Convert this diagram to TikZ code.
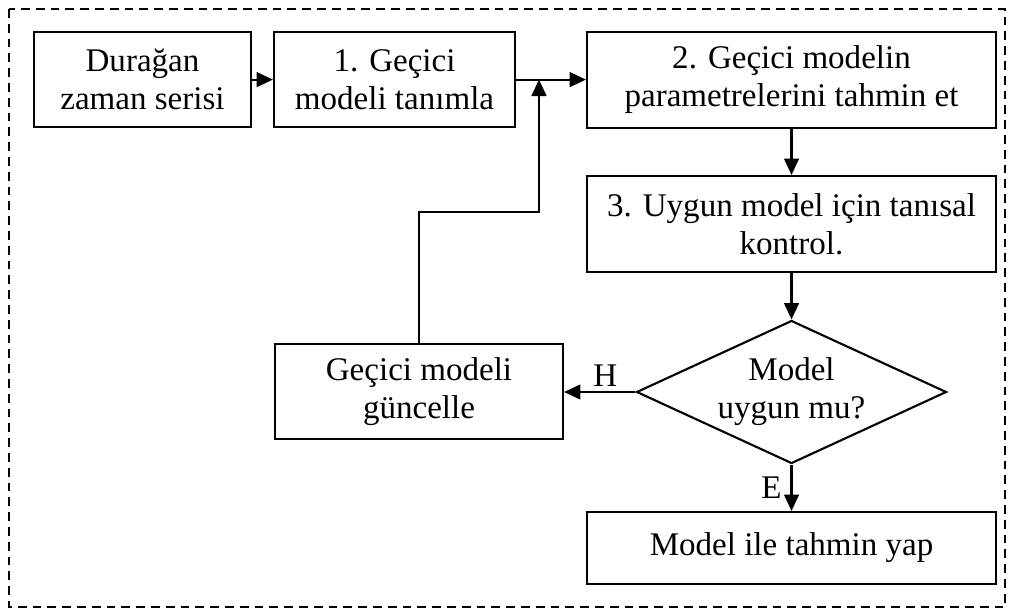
\documentclass[tikz,border=0pt]{standalone}
\usepackage{fontspec}
\setmainfont{Liberation Serif}
\usetikzlibrary{arrows.meta}
\usetikzlibrary{shapes.geometric}
\tikzset{proc/.style = {draw, line width=1.5pt, align=center, inner sep=0pt}}
\tikzset{decide/.style = {diamond, draw, line width=1.5pt, align=center, inner sep=0pt,
                          shape aspect=2.2, minimum width=7.75cm, minimum height=3.575cm}}
\tikzset{flow/.style = {-{Triangle[length=0.41cm, width=0.37cm]}, line width=1.5pt}}

\begin{document}
\begin{tikzpicture}[font=\fontsize{23.5}{27}\selectfont]
    \useasboundingbox (0, 0) rectangle (25.35, -15.325);
    \draw [dash pattern=on 0.22cm off 0.15cm, line width=1.2pt] (0.225, -0.225) rectangle (25.125, -15.175);
    \node [proc, minimum width=5.425cm, minimum height=2.375cm] (seri) at (3.5625, -1.99) {Durağan\\zaman serisi};
    \node [proc, minimum width=6.025cm, minimum height=2.375cm] (gecici) at (9.8625, -1.99) {1. Geçici\\modeli tanımla};
    \node [proc, minimum width=10.225cm, minimum height=2.4cm] (param) at (19.7875, -1.99) {2. Geçici modelin\\parametrelerini tahmin et};
    \node [proc, minimum width=10.225cm, minimum height=2.4cm] (kontrol) at (19.7875, -5.6) {3. Uygun model için tanısal\\kontrol.};
    \node [decide] (uygun) at (19.7875, -9.8) {Model\\uygun mu?};
    \node [proc, minimum width=7.2cm, minimum height=2.375cm] (guncelle) at (10.475, -9.7875) {Geçici modeli\\güncelle};
    \node [proc, minimum width=10.225cm, minimum height=1.8cm] (tahmin) at (19.7875, -13.7) {Model ile tahmin yap};
    \coordinate (join) at (13.475, -1.99);
    \coordinate (bend) at (13.475, -5.3);
    \draw [flow] (seri) -- (gecici);
    \draw [flow] (gecici) -- (param);
    \draw [flow] (guncelle.north) |- (bend) -- (join);
    \draw [flow] (param) -- (kontrol);
    \draw [flow] (kontrol) -- (uygun);
    \draw [flow] (uygun.west) -- node [above, xshift=4pt] {H} (guncelle.east |- uygun.west);
    \draw [flow] (uygun.south) -- node [left, xshift=-3pt] {E} (tahmin.north);
\end{tikzpicture}
\end{document}
